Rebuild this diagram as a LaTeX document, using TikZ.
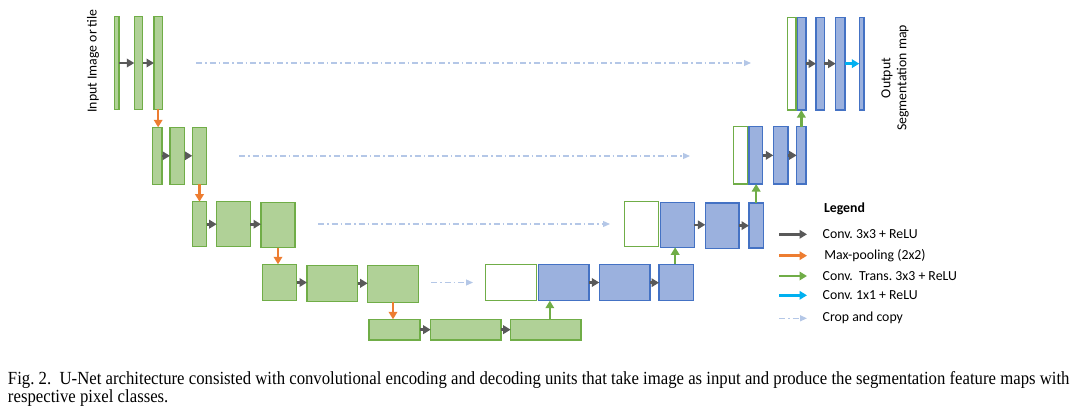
\documentclass[tikz,border=0pt]{standalone}
\usepackage{fontspec}
\setmainfont{Carlito}
\newfontfamily\capfont[FakeStretch=0.905]{Liberation Serif}
\usetikzlibrary{arrows.meta,calc}
\definecolor{gfill}{HTML}{B0D197}
\definecolor{gline}{HTML}{70AD47}
\definecolor{bfill}{HTML}{9BB1DE}
\definecolor{bline}{HTML}{4472C4}
\definecolor{cgray}{HTML}{595959}
\definecolor{corange}{HTML}{ED7D31}
\definecolor{cgreen}{HTML}{70AD47}
\definecolor{ccyan}{HTML}{00B0F0}
\definecolor{ccrop}{HTML}{B4C7E7}
\newcommand\ubox[6]{\node[#2, minimum width={(#5-#3)*1pt}, minimum height={(#6-#4)*1pt}] (#1) at ({(#3+#5)/2},{(#4+#6)/2}) {};}
\tikzset{
  every node/.style={inner sep=0pt, outer sep=0pt},
  gbox/.style={draw=gline, fill=gfill, line width=1.4pt},
  bbox/.style={draw=bline, fill=bfill, line width=1.4pt},
  wbox/.style={draw=gline, fill=white, line width=1.4pt},
  arrbase/.style={line width=2.6pt, -{Triangle[length=7.5pt,width=8.5pt]}},
  conv/.style={arrbase, draw=cgray, fill=cgray},
  pool/.style={arrbase, draw=corange, fill=corange},
  upc/.style={arrbase, draw=cgreen, fill=cgreen},
  onex/.style={arrbase, draw=ccyan, fill=ccyan},
  crop/.style={draw=ccrop, line width=1.2pt, dash pattern=on 6pt off 3pt on 1.5pt off 3pt, -{Triangle[length=7pt,width=6pt,fill=ccrop]}},
  lbl/.style={font=\fontsize{13.8}{16}\selectfont},
  legtxt/.style={lbl, anchor=west},
}
\begin{document}
\begin{tikzpicture}[x=1pt,y=-1pt]
\frenchspacing
\useasboundingbox (0,0) rectangle (1080,410);
% encoder
\ubox{e11}{gbox}{114.3}{16.7}{119}{109.3}
\ubox{e12}{gbox}{134.3}{16.7}{142.7}{109.3}
\ubox{e13}{gbox}{154}{16.7}{162.3}{109.3}
\ubox{e21}{gbox}{152.7}{127.3}{162}{184.3}
\ubox{e22}{gbox}{170}{127.3}{184.7}{184.3}
\ubox{e23}{gbox}{192.3}{127.3}{206.7}{184.3}
\ubox{e31}{gbox}{192.7}{201.7}{206.7}{246.7}
\ubox{e32}{gbox}{216.7}{201.7}{250.3}{246.7}
\ubox{e33}{gbox}{261}{202.3}{295}{247.7}
\ubox{e41}{gbox}{262.3}{264.3}{296.7}{300.7}
\ubox{e42}{gbox}{307}{265.3}{357.7}{301.3}
\ubox{e43}{gbox}{367.7}{265.7}{418.3}{302.3}
\ubox{e51}{gbox}{369}{319.3}{420}{340}
\ubox{e52}{gbox}{430.7}{319.3}{501}{340}
\ubox{e53}{gbox}{510.7}{319.3}{581}{340}
% decoder
\ubox{w4}{wbox}{485.3}{264.3}{536.7}{300.7}
\ubox{d41}{bbox}{538.3}{264.3}{589}{300.7}
\ubox{d42}{bbox}{599.3}{264.7}{650}{300.7}
\ubox{d43}{bbox}{659}{264.3}{693.3}{300.7}
\ubox{w3}{wbox}{624.7}{201.7}{658.7}{246.7}
\ubox{d31}{bbox}{660.7}{202.3}{694.3}{247.3}
\ubox{d32}{bbox}{705.3}{203}{739}{248.3}
\ubox{d33}{bbox}{749}{203}{763.3}{248}
\ubox{w2}{wbox}{733.3}{126.7}{747.3}{184}
\ubox{d21}{bbox}{749}{126.7}{762.7}{184}
\ubox{d22}{bbox}{773.3}{126.7}{788}{184}
\ubox{d23}{bbox}{796.7}{126.7}{806}{184}
\ubox{w1}{wbox}{787.7}{17.3}{796}{110}
\ubox{d11}{bbox}{797.3}{17.3}{806}{110}
\ubox{d12}{bbox}{816}{17.3}{824.3}{110}
\ubox{d13}{bbox}{835.7}{17.3}{845}{110}
\ubox{d14}{bbox}{859.3}{17.3}{864}{110}
% conv arrows
\foreach \a/\b in {e11/e12,e12/e13,e21/e22,e22/e23,e31/e32,e32/e33,e41/e42,e42/e43,e51/e52,e52/e53,d41/d42,d42/d43,d31/d32,d32/d33,d21/d22,d22/d23,d11/d12,d12/d13}
  \draw[conv] (\a.east) -- (\a.east -| \b.west);
\draw[onex] (d13.east) -- (d13.east -| d14.west);
% pooling
\foreach \a/\b in {e13/e21,e23/e31,e33/e41,e43/e51}
  \draw[pool] (\a.south) -- (\a.south |- \b.north);
% up-conv
\draw[upc] ([xshift=4pt]e53.north) -- ([xshift=4pt]e53.north |- d41.south);
\draw[upc] ([xshift=-1pt]d43.north) -- ([xshift=-1pt]d43.north |- d31.south);
\draw[upc] (d33.north) -- (d33.north |- d21.south);
\draw[upc] (d23.north) -- (d23.north |- d11.south);
% crop and copy
\coordinate (c1s) at (196,63); \coordinate (c1e) at (751,63);
\coordinate (c2s) at (239,156); \coordinate (c2e) at (690,156);
\coordinate (c3s) at (318,224); \coordinate (c3e) at (610,224);
\coordinate (c4s) at (431,282.5); \coordinate (c4e) at (473,282.5);
\foreach \i in {1,2,3,4} \draw[crop] (c\i s) -- (c\i e);
% labels
\node[lbl, rotate=90] (inp) at (93,61) {Input Image or tile};
\node[lbl, rotate=90, align=center] (outp) at (895,78) {Output\\Segmentation map};
% legend
\node[anchor=west, font=\fontsize{13.8}{16}\selectfont\bfseries] (leg) at (824,208.5) {Legend};
\coordinate (l1s) at (779,234.3); \coordinate (l1e) at (807,234.3);
\coordinate (l2s) at (779,255.7); \coordinate (l2e) at (807,255.7);
\coordinate (l3s) at (779,276); \coordinate (l3e) at (807,276);
\coordinate (l4s) at (779,295.3); \coordinate (l4e) at (807,295.3);
\coordinate (l5s) at (779,318.3); \coordinate (l5e) at (807,318.3);
\draw[conv] (l1s) -- (l1e);
\draw[pool] (l2s) -- (l2e);
\draw[upc] (l3s) -- (l3e);
\draw[onex] (l4s) -- (l4e);
\draw[crop] (l5s) -- (l5e);
\node[legtxt] (t1) at (822.7,234.3) {Conv. 3x3 + ReLU};
\node[legtxt] (t2) at (824.3,255.7) {Max-pooling (2x2)};
\node[legtxt] (t3) at (822.7,276) {Conv.\ \ Trans. 3x3 + ReLU};
\node[legtxt] (t4) at (822.7,295.3) {Conv. 1x1 + ReLU};
\node[legtxt] (t5) at (822.7,318.3) {Crop and copy};
% caption
\node[anchor=base west, font=\fontsize{18.5}{20}\capfont] (cap1) at (8,384) {Fig. 2.\ \ U-Net architecture consisted with convolutional encoding and decoding units that take image as input and produce the segmentation feature maps with};
\node[anchor=base west, font=\fontsize{18.5}{20}\capfont] (cap2) at (8,402) {respective pixel classes.};
\end{tikzpicture}
\end{document}
